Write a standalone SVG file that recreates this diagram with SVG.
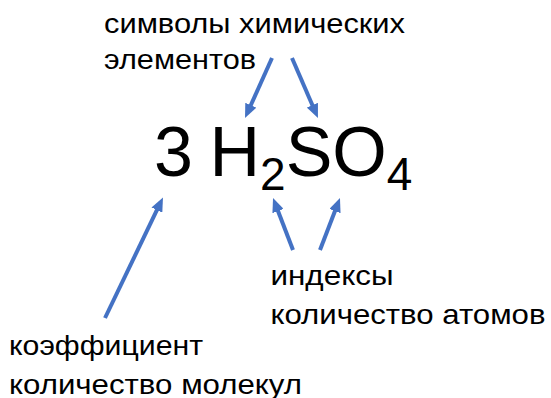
<svg xmlns="http://www.w3.org/2000/svg" width="551" height="398" viewBox="0 0 551 398">
<style>
.lbl{font-family:"Liberation Sans",Arial,sans-serif;font-size:27.5px;fill:#000}
.f{font-family:"Liberation Sans",Arial,sans-serif;font-size:70px;fill:#000}
.sub{font-size:46px}
.ar{stroke:#4472C4;stroke-width:4;fill:none;marker-end:url(#ah)}
</style>
<defs>
<marker id="ah" markerUnits="userSpaceOnUse" markerWidth="14" markerHeight="12" viewBox="0 0 14 12" refX="6" refY="6" orient="auto">
<path d="M0,0 L14,6 L0,12 z" fill="#4472C4"/>
</marker>
</defs>
<rect width="551" height="398" fill="#fff"/>
<g id="formula">
<text class="f" x="154" y="176">3</text>
<text class="f" x="209.5" y="176">H<tspan class="sub" dy="14">2</tspan><tspan dy="-14">SO</tspan><tspan class="sub" dy="14">4</tspan></text>
</g>
<g id="symbols">
<text class="lbl" x="104" y="32.5" textLength="301" lengthAdjust="spacingAndGlyphs">символы химических</text>
<text class="lbl" x="104" y="68.5" textLength="152" lengthAdjust="spacingAndGlyphs">элементов</text>
</g>
<g id="indices">
<text class="lbl" x="270.5" y="284.5" textLength="123" lengthAdjust="spacingAndGlyphs">индексы</text>
<text class="lbl" x="270.5" y="323.5" textLength="275" lengthAdjust="spacingAndGlyphs">количество атомов</text>
</g>
<g id="coefficient">
<text class="lbl" x="9" y="354.5" textLength="194" lengthAdjust="spacingAndGlyphs">коэффициент</text>
<text class="lbl" x="9" y="393.5" textLength="293" lengthAdjust="spacingAndGlyphs">количество молекул</text>
</g>
<g id="connectors">
<line class="ar" x1="272" y1="58" x2="248.3" y2="110.7"/>
<line class="ar" x1="292" y1="58" x2="314.8" y2="110.7"/>
<line class="ar" x1="105" y1="318" x2="159.5" y2="204.7"/>
<line class="ar" x1="293" y1="250" x2="275.9" y2="205.5"/>
<line class="ar" x1="320" y1="250" x2="337.1" y2="205.5"/>
</g>
</svg>
